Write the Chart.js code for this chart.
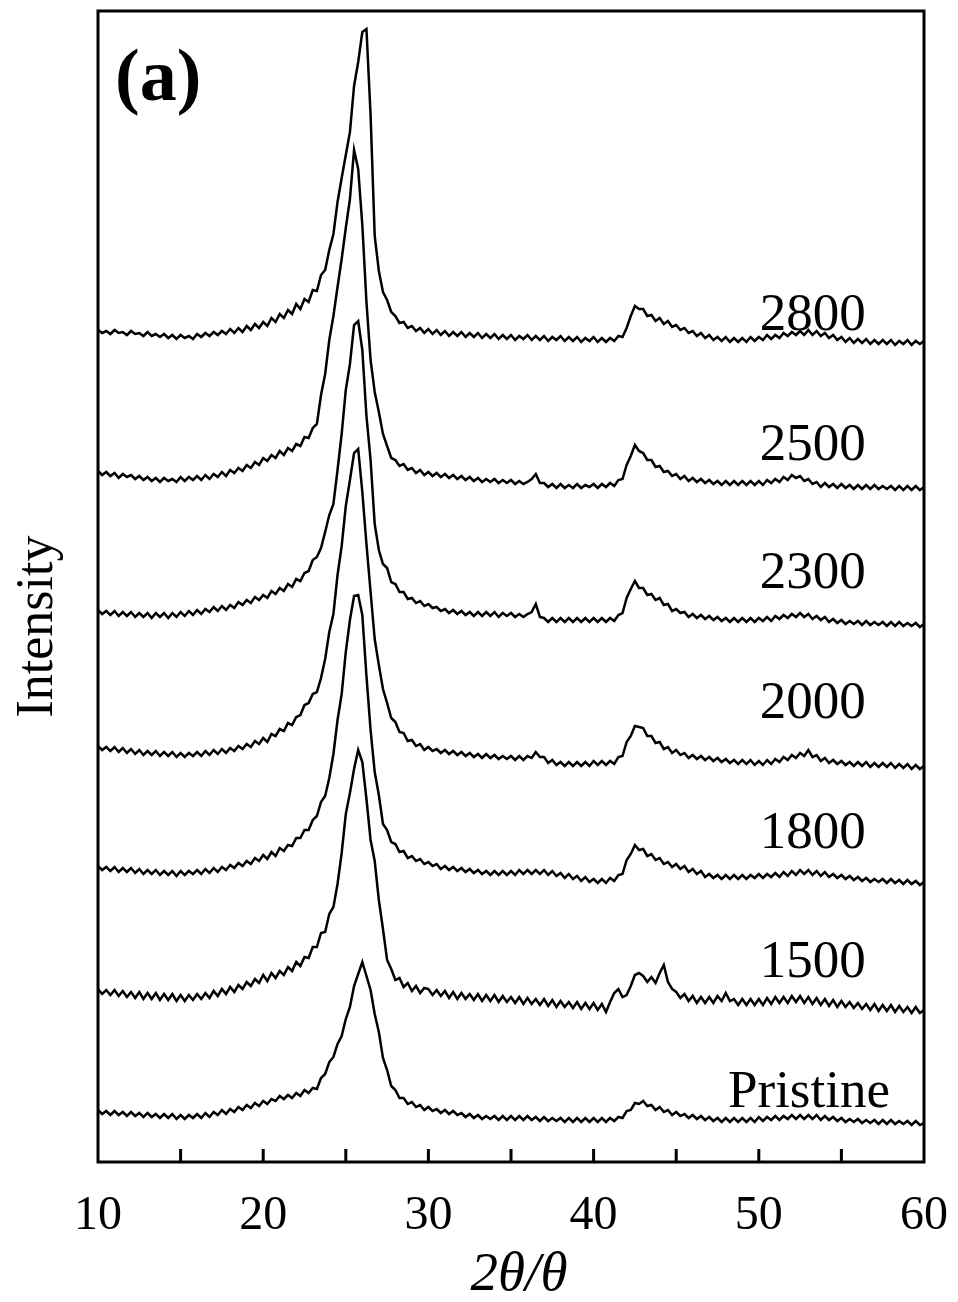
<!DOCTYPE html>
<html>
<head>
<meta charset="utf-8">
<title>XRD patterns (a)</title>
<script src="https://cdn.jsdelivr.net/npm/chart.js@4.4.1/dist/chart.umd.min.js"></script>
<style>
    html, body { margin: 0; padding: 0; background: #fff; }
    #xrd { display: block; }
</style>
</head>
<body>
<canvas id="xrd" width="958" height="1302"></canvas>
<script>
// scan grid: 10 to 60 deg, 0.25 deg step
const twoTheta = Array.from({ length: 201 }, (_, i) => 10 + i * 0.25);

// intensities (a.u., curves already stacked), one value per grid step
const i2800 = [
    832, 829, 831, 828, 832, 829, 830, 827, 831, 828, 829, 826, 830, 826, 828, 825, 828, 824, 827, 823,
    827, 824, 826, 823, 828, 825, 829, 826, 830, 827, 831, 828, 833, 829, 834, 830, 836, 832, 838, 834,
    840, 836, 844, 840, 848, 844, 852, 848, 858, 853, 863, 860, 872, 871, 887, 892, 912, 928, 960, 984,
    1007, 1030, 1076, 1100, 1130, 1133, 1047, 926, 891, 870, 862, 850, 846, 839, 840, 834, 836, 831, 834, 829,
    833, 828, 832, 827, 831, 826, 830, 826, 830, 825, 829, 825, 829, 824, 828, 824, 828, 823, 827, 823,
    827, 822, 826, 823, 827, 822, 826, 822, 826, 821, 825, 822, 826, 821, 825, 821, 825, 820, 824, 821,
    825, 820, 824, 820, 824, 821, 826, 825, 834, 846, 856, 853, 853, 846, 847, 841, 844, 838, 841, 835,
    837, 832, 834, 829, 831, 826, 829, 824, 827, 822, 825, 821, 825, 820, 824, 820, 824, 820, 825, 821,
    825, 822, 827, 823, 827, 824, 829, 826, 830, 827, 831, 827, 832, 827, 831, 826, 829, 824, 827, 822,
    825, 820, 824, 819, 823, 819, 823, 818, 822, 818, 822, 818, 822, 817, 821, 818, 822, 817, 821, 818,
    821
];
const i2500 = [
    691, 687, 690, 686, 689, 684, 688, 685, 687, 683, 686, 682, 685, 681, 684, 680, 684, 681, 683, 680,
    685, 681, 685, 682, 686, 682, 687, 683, 688, 685, 690, 686, 692, 689, 694, 691, 697, 694, 700, 697,
    704, 701, 707, 704, 711, 707, 714, 711, 718, 716, 725, 724, 734, 738, 767, 788, 822, 846, 875, 903,
    934, 963, 1012, 993, 937, 860, 802, 770, 750, 728, 716, 704, 702, 696, 698, 692, 694, 689, 692, 687,
    690, 686, 689, 685, 688, 684, 687, 683, 686, 682, 685, 681, 684, 680, 683, 680, 683, 679, 682, 679,
    682, 678, 681, 678, 680, 683, 688, 679, 679, 675, 678, 674, 678, 674, 677, 674, 678, 674, 677, 675,
    678, 674, 678, 675, 679, 676, 682, 683, 697, 706, 717, 711, 709, 702, 702, 695, 696, 690, 691, 686,
    688, 683, 686, 681, 684, 680, 683, 679, 682, 678, 681, 677, 681, 677, 681, 677, 681, 677, 681, 677,
    681, 677, 682, 679, 683, 680, 685, 682, 687, 684, 686, 681, 683, 678, 680, 675, 679, 675, 678, 674,
    678, 674, 677, 673, 677, 673, 677, 673, 677, 673, 676, 673, 676, 672, 676, 672, 676, 672, 676, 672,
    675
];
const i2300 = [
    552, 548, 551, 547, 551, 546, 550, 546, 550, 545, 549, 545, 549, 544, 549, 545, 549, 544, 549, 545,
    550, 546, 551, 547, 552, 548, 553, 550, 555, 551, 556, 552, 557, 554, 560, 557, 562, 559, 565, 562,
    567, 564, 571, 568, 574, 571, 578, 575, 583, 581, 589, 591, 602, 605, 614, 630, 647, 658, 692, 728,
    772, 798, 837, 841, 812, 746, 702, 638, 612, 598, 594, 580, 578, 570, 570, 563, 564, 559, 561, 556,
    558, 554, 555, 551, 553, 549, 552, 548, 551, 547, 550, 546, 550, 546, 550, 546, 550, 545, 549, 546,
    549, 545, 548, 545, 548, 550, 558, 545, 544, 540, 544, 540, 544, 540, 544, 540, 544, 540, 544, 540,
    544, 540, 544, 540, 544, 541, 547, 549, 564, 573, 581, 574, 574, 567, 568, 562, 564, 557, 558, 551,
    553, 549, 550, 545, 548, 544, 547, 543, 546, 542, 545, 541, 544, 540, 544, 540, 544, 540, 544, 540,
    544, 541, 545, 541, 546, 543, 547, 544, 548, 545, 549, 545, 548, 543, 546, 542, 545, 540, 543, 539,
    542, 538, 541, 538, 541, 537, 541, 537, 540, 537, 540, 536, 540, 536, 540, 536, 539, 536, 539, 535,
    538
];
const i2000 = [
    416, 412, 415, 411, 415, 410, 414, 409, 413, 408, 412, 407, 411, 407, 411, 406, 410, 406, 410, 405,
    409, 405, 409, 406, 410, 406, 411, 407, 412, 408, 413, 409, 414, 411, 416, 413, 418, 415, 421, 418,
    424, 420, 428, 426, 433, 431, 439, 437, 445, 447, 457, 459, 468, 470, 484, 503, 530, 548, 587, 616,
    656, 682, 709, 713, 670, 618, 570, 523, 497, 473, 459, 444, 440, 430, 429, 421, 422, 416, 418, 412,
    415, 411, 413, 409, 412, 408, 411, 407, 410, 406, 409, 405, 408, 404, 408, 404, 407, 403, 406, 403,
    406, 402, 406, 402, 406, 404, 410, 405, 405, 399, 402, 397, 400, 396, 400, 396, 400, 396, 400, 396,
    401, 397, 401, 397, 401, 398, 405, 406, 420, 426, 436, 435, 434, 426, 426, 419, 420, 413, 415, 409,
    412, 407, 409, 404, 407, 403, 406, 402, 405, 401, 404, 400, 403, 399, 402, 398, 402, 398, 402, 397,
    401, 397, 402, 398, 403, 400, 405, 402, 407, 404, 409, 406, 412, 405, 407, 401, 404, 399, 402, 398,
    401, 397, 400, 396, 400, 396, 400, 395, 399, 395, 399, 395, 399, 394, 398, 394, 398, 393, 397, 393,
    396
];
const i1800 = [
    296, 292, 295, 291, 295, 290, 294, 290, 294, 289, 293, 288, 292, 288, 292, 287, 291, 287, 291, 286,
    291, 287, 291, 288, 292, 288, 293, 289, 294, 290, 295, 292, 297, 294, 299, 296, 301, 298, 304, 301,
    307, 303, 310, 306, 314, 311, 317, 316, 324, 324, 332, 332, 342, 346, 360, 366, 384, 408, 442, 468,
    510, 542, 566, 567, 547, 486, 432, 390, 367, 338, 332, 320, 318, 310, 311, 304, 306, 301, 303, 298,
    300, 296, 298, 293, 296, 292, 295, 291, 294, 290, 293, 289, 292, 288, 291, 287, 291, 287, 291, 287,
    291, 287, 292, 288, 292, 288, 292, 288, 292, 287, 291, 286, 289, 284, 288, 283, 286, 281, 285, 280,
    283, 279, 283, 279, 284, 281, 287, 288, 302, 308, 317, 312, 313, 306, 308, 302, 304, 298, 300, 295,
    298, 293, 296, 290, 293, 288, 291, 285, 288, 284, 287, 283, 287, 283, 287, 283, 287, 283, 287, 284,
    288, 284, 288, 285, 289, 285, 290, 286, 291, 287, 292, 288, 292, 287, 291, 286, 290, 285, 288, 284,
    287, 283, 286, 282, 285, 281, 284, 280, 283, 280, 283, 279, 283, 279, 282, 278, 282, 278, 281, 277,
    280
];
const i1500 = [
    173, 168, 172, 167, 172, 166, 171, 165, 170, 164, 170, 163, 169, 163, 169, 162, 168, 162, 168, 161,
    167, 161, 167, 162, 168, 163, 169, 164, 171, 166, 173, 168, 175, 170, 177, 173, 180, 176, 183, 179,
    187, 181, 189, 184, 191, 187, 195, 191, 200, 196, 205, 204, 215, 215, 229, 230, 248, 255, 278, 309,
    348, 369, 393, 412, 400, 363, 322, 301, 262, 233, 202, 193, 182, 184, 175, 179, 171, 176, 169, 174,
    173, 167, 172, 166, 171, 164, 170, 163, 169, 163, 168, 162, 168, 161, 167, 161, 167, 160, 166, 160,
    165, 159, 165, 158, 164, 158, 163, 157, 163, 156, 162, 155, 161, 155, 160, 154, 160, 153, 159, 153,
    159, 152, 158, 150, 160, 169, 173, 165, 167, 176, 187, 189, 186, 180, 185, 179, 189, 197, 180, 173,
    170, 164, 168, 161, 166, 159, 165, 159, 165, 159, 166, 161, 169, 161, 163, 157, 163, 157, 163, 157,
    163, 157, 164, 158, 165, 159, 165, 159, 166, 160, 166, 159, 165, 158, 164, 157, 163, 156, 162, 155,
    161, 155, 160, 154, 159, 153, 158, 152, 158, 151, 157, 151, 157, 150, 156, 150, 155, 149, 155, 149,
    152
];
const iPristine = [
    52, 48, 51, 47, 51, 47, 50, 46, 50, 46, 49, 45, 49, 45, 48, 44, 48, 44, 48, 43,
    47, 43, 47, 44, 48, 44, 49, 45, 50, 47, 52, 48, 53, 50, 55, 52, 57, 54, 59, 56,
    61, 58, 63, 61, 66, 63, 67, 64, 69, 66, 72, 69, 74, 73, 84, 88, 100, 105, 118, 126,
    143, 155, 176, 188, 200, 186, 172, 148, 130, 104, 92, 76, 72, 64, 64, 58, 60, 55, 57, 52,
    55, 51, 53, 49, 52, 48, 51, 47, 49, 45, 48, 44, 47, 43, 46, 43, 46, 42, 46, 42,
    46, 42, 46, 42, 46, 42, 45, 41, 45, 41, 44, 41, 44, 40, 44, 40, 44, 40, 44, 40,
    44, 40, 44, 40, 44, 41, 45, 44, 51, 52, 59, 58, 61, 56, 57, 52, 55, 50, 52, 47,
    50, 46, 48, 44, 47, 43, 46, 42, 45, 41, 44, 40, 44, 40, 44, 40, 44, 40, 44, 40,
    45, 41, 45, 42, 46, 42, 46, 43, 47, 43, 47, 43, 47, 43, 47, 42, 46, 42, 45, 41,
    44, 40, 43, 40, 43, 39, 42, 39, 42, 38, 42, 38, 42, 38, 41, 38, 41, 37, 41, 37,
    39
];

const sampleNames = ['2800', '2500', '2300', '2000', '1800', '1500', 'Pristine'];
const sampleSeries = [i2800, i2500, i2300, i2000, i1800, i1500, iPristine];

// name tags: right edge (2theta) and baseline (intensity)
const tagTheta = [56.47, 56.47, 56.47, 56.47, 56.47, 56.47, 57.94];
const tagLevel = [832, 702, 574, 444, 314, 185, 55];

const majorTicks = [10, 20, 30, 40, 50, 60];

const serif = '"Liberation Serif", "Times New Roman", serif';

// box frame, inward ticks, sample names, panel letter, axis titles
const decorations = {
    id: 'decorations',
    afterDraw(chart) {
        const { ctx, chartArea: a, scales: { x, y } } = chart;
        ctx.save();
        ctx.strokeStyle = '#000';
        ctx.fillStyle = '#000';
        ctx.lineWidth = 3;
        ctx.strokeRect(a.left, a.top, a.right - a.left, a.bottom - a.top);

        ctx.beginPath();
        x.ticks.forEach(t => {
            if (t.value <= x.min || t.value >= x.max) return;
            const px = x.getPixelForValue(t.value);
            ctx.moveTo(px, a.bottom);
            ctx.lineTo(px, a.bottom - 13);
        });
        ctx.stroke();

        ctx.font = '53px ' + serif;
        ctx.textAlign = 'right';
        ctx.textBaseline = 'alphabetic';
        sampleNames.forEach((name, i) => {
            ctx.fillText(name, x.getPixelForValue(tagTheta[i]), y.getPixelForValue(tagLevel[i]));
        });

        ctx.font = 'bold 74px ' + serif;
        ctx.textAlign = 'left';
        ctx.fillText('(a)', a.left + 17, a.top + 89);

        // x title
        ctx.font = 'italic 55px ' + serif;
        ctx.textAlign = 'center';
        ctx.textBaseline = 'middle';
        ctx.fillText('2θ/θ', (a.left + a.right) / 2 + 8, a.bottom + 114);

        // y title
        ctx.font = '52px ' + serif;
        ctx.translate(a.left - 60, (a.top + a.bottom) / 2 + 40);
        ctx.rotate(-Math.PI / 2);
        ctx.fillText('Intensity', 0, 0);
        ctx.restore();
    }
};

new Chart(document.getElementById('xrd'), {
    type: 'line',
    data: {
        labels: twoTheta,
        datasets: sampleSeries.map((values, i) => ({
            label: sampleNames[i],
            data: values.map((v, k) => ({ x: twoTheta[k], y: v })),
            borderColor: '#000',
            borderWidth: 2.5,
            pointRadius: 0,
            tension: 0,
            fill: false
        }))
    },
    options: {
        responsive: false,
        animation: false,
        devicePixelRatio: 1,
        layout: { padding: { top: 11, right: 34, bottom: 0, left: 0 } },
        plugins: {
            legend: { display: false },
            tooltip: { enabled: false }
        },
        scales: {
            x: {
                type: 'linear',
                min: 10,
                max: 60,
                afterFit(scale) {
                    scale.height = 140;
                    // the end labels may spill past the plot box, as in the figure
                    scale.paddingLeft = 0;
                    scale.paddingRight = 0;
                },
                grid: { display: false },
                border: { display: false },
                ticks: {
                    stepSize: 5,
                    autoSkip: false,
                    maxRotation: 0,
                    padding: 18,
                    color: '#000',
                    font: { family: serif, size: 48 },
                    callback: v => majorTicks.includes(v) ? String(v) : ''
                }
            },
            y: {
                min: 0,
                max: 1151,
                afterFit(scale) { scale.width = 98; },
                grid: { display: false },
                border: { display: false },
                ticks: { display: false }
            }
        }
    },
    plugins: [decorations]
});
</script>
</body>
</html>
